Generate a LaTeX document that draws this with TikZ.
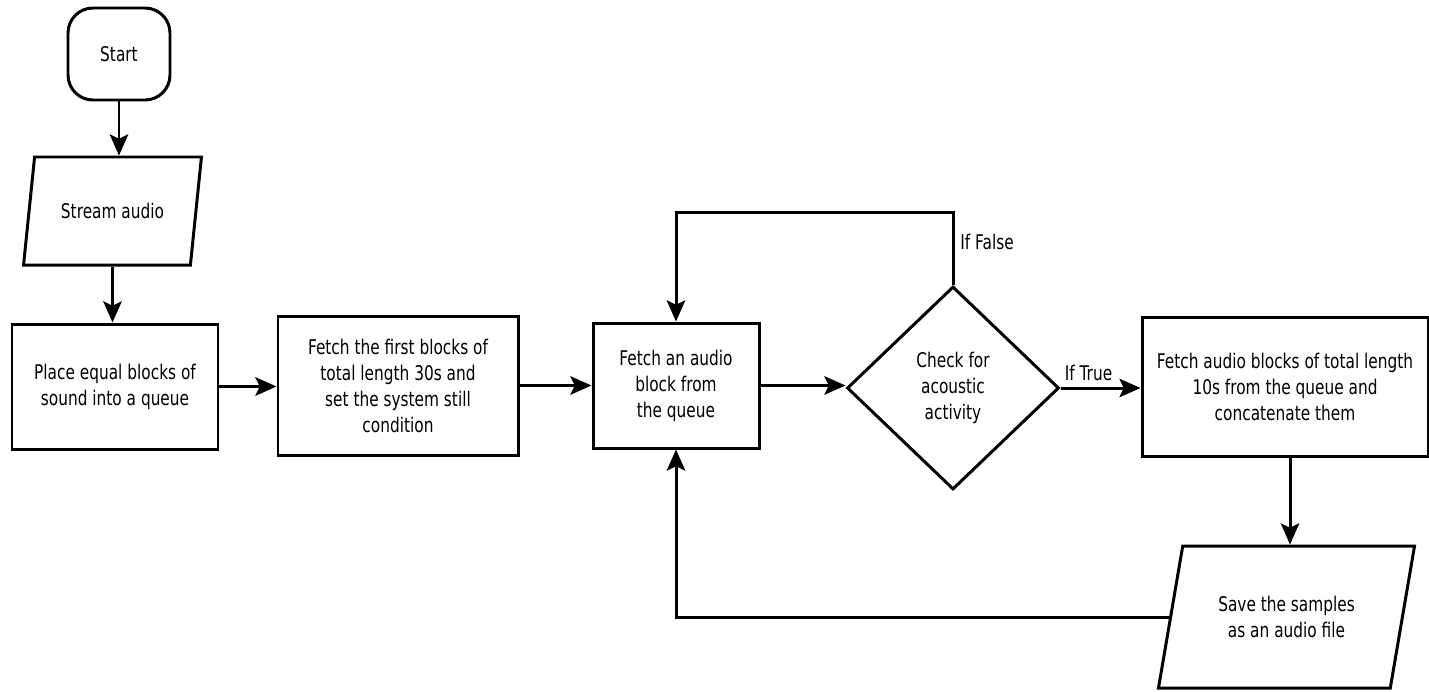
\documentclass[tikz,border=0pt]{standalone}
\usepackage{fontspec}
\setmainfont{DejaVu Sans}[FakeStretch=0.76]
\usetikzlibrary{shapes.geometric,arrows.meta}

\begin{document}
\begin{tikzpicture}[->, >={Stealth[length=12pt,width=10.5pt,inset=2.5pt]}, line width=1.7pt,
    every node/.style={font=\fontsize{11.5}{14.8}\selectfont, align=center},
    block/.style={rectangle, draw, inner sep=2pt},
    io/.style={trapezium, trapezium left angle=71, trapezium right angle=109,
        trapezium stretches=true, draw, inner sep=2pt},
    decision/.style={diamond, draw, inner sep=0pt}]

                \useasboundingbox (0,0) rectangle (28.58,-13.82);

                % Nodes
                \node (start) [block, rounded corners=0.5cm, minimum width=2.04cm, minimum height=1.84cm] at (2.38,-1.08) {Start};
                \node (stream) [io, minimum width=3.58cm, minimum height=2.16cm] at (2.25,-4.22) {Stream audio};
                \node (place) [block, minimum width=4.12cm, minimum height=2.5cm] at (2.30,-7.73) {Place equal blocks of\\sound into a queue};
                \node (first) [block, minimum width=4.8cm, minimum height=2.78cm] at (7.96,-7.71) {Fetch the first blocks of\\total length 30s and\\set the system still\\condition};
                \node (fetch) [block, minimum width=3.32cm, minimum height=2.5cm] at (13.52,-7.71) {Fetch an audio\\block from\\the queue};
                \node (check) [decision, minimum width=4.24cm, minimum height=4.06cm] at (19.06,-7.76) {Check for\\acoustic\\activity};
                \node (concat) [block, minimum width=5.72cm, minimum height=2.78cm] at (25.70,-7.73) {Fetch audio blocks of total length\\10s from the queue and\\concatenate them};
                \node (save) [io, minimum width=5.14cm, minimum height=2.84cm] at (25.73,-12.34) {Save the samples\\as an audio file};

                % Main flow
                \draw (start.south) -- (start.south |- stream.north);
                \draw (stream.south) -- (stream.south |- place.north);
                \draw (place.east) -- (place.east -| first.west);
                \draw (first.east) -- (first.east -| fetch.west);
                \draw (fetch.east) -- (fetch.east -| check.west);

                % Decision
                \draw (check.east) -- node[above, pos=0.35] {If True} (check.east -| concat.west);
                \draw (check.north) -- node[right, pos=0.59] {If False} ++(0,1.46) -| (fetch.north);

                % Saving and back to the queue
                \draw (save.north -| concat.south) ++(0.1,0) coordinate (tip) (concat.south -| tip) -- (tip);
                \draw (save.west) -| (fetch.south);

            \end{tikzpicture}
\end{document}
